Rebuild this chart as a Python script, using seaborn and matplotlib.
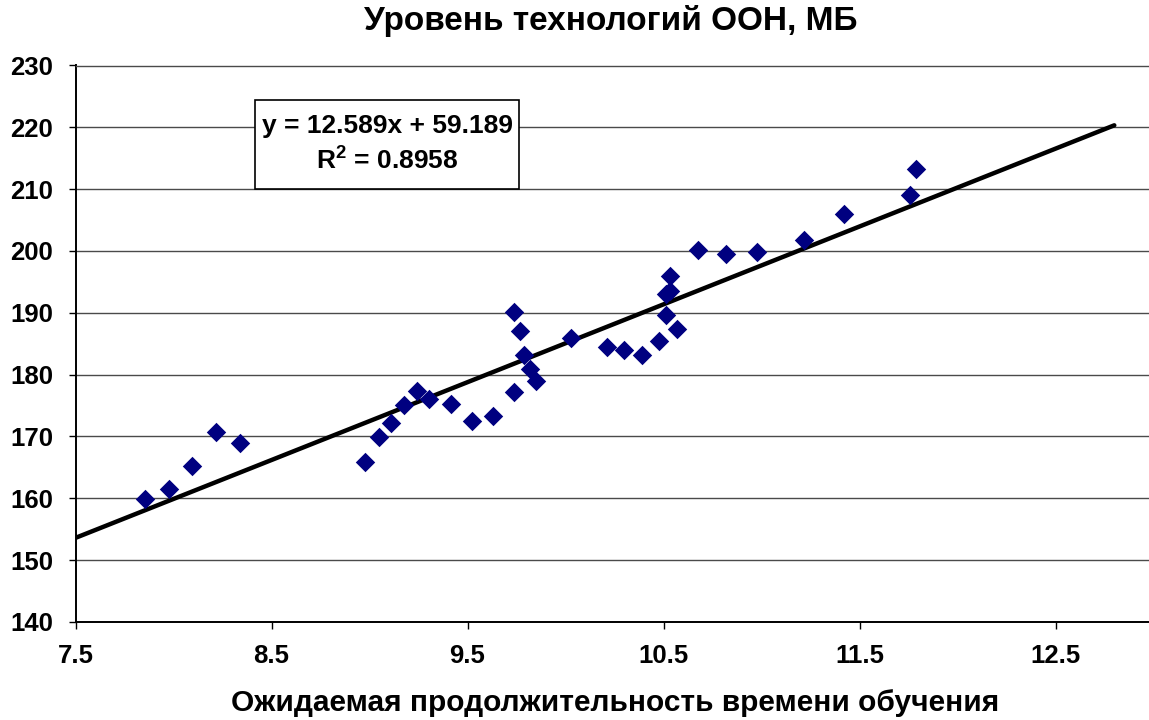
import matplotlib
matplotlib.use("Agg")
import matplotlib.pyplot as plt
import pandas as pd
import seaborn as sns
from matplotlib.patches import Rectangle

# Expected years of schooling vs. technology level (UN / World Bank)
schooling_years = [
    7.856, 7.976, 8.095, 8.216, 8.337,
    8.978, 9.046, 9.110, 9.175, 9.240, 9.302, 9.417, 9.524, 9.630,
    9.737, 9.736, 9.768, 9.790, 9.820, 9.847,
    10.030, 10.210, 10.298, 10.389, 10.478, 10.569,
    10.511, 10.515, 10.531, 10.535,
    10.676, 10.821, 10.975, 11.216, 11.422, 11.756, 11.788,
]
tech_level = [
    159.9, 161.5, 165.2, 170.8, 169.0,
    165.9, 169.9, 172.2, 175.1, 177.3, 176.0, 175.2, 172.5, 173.3,
    177.2, 190.1, 187.1, 183.2, 180.9, 179.0,
    185.9, 184.4, 184.0, 183.2, 185.5, 187.4,
    189.7, 193.0, 193.6, 195.9,
    200.1, 199.5, 199.9, 201.8, 206.0, 209.1, 213.2,
]

# Linear trend reported on the chart
slope = 12.589
intercept = 59.189
r_squared = 0.8958
trend_x = [7.5, 12.8]

x_ticks = [7.5, 8.5, 9.5, 10.5, 11.5, 12.5]
y_ticks = [140, 150, 160, 170, 180, 190, 200, 210, 220, 230]

title = "Уровень технологий ООН, МБ"
x_label = "Ожидаемая продолжительность времени обучения"

sns.set_style("white")
plt.rcParams["font.family"] = ["Liberation Sans", "DejaVu Sans"]
plt.rcParams["font.weight"] = "bold"
plt.rcParams["mathtext.fontset"] = "custom"
plt.rcParams["mathtext.bf"] = "Liberation Sans:bold"
plt.rcParams["text.color"] = "black"
plt.rcParams["xtick.color"] = "black"
plt.rcParams["ytick.color"] = "black"
plt.rcParams["axes.labelcolor"] = "black"

W, H = 1149, 720
fig = plt.figure(figsize=(W / 100, H / 100), dpi=100)

left_px, top_px, bottom_px = 75.5, 65.5, 622.0
px_per_unit = 196.0
ax = fig.add_axes([left_px / W, 1 - bottom_px / H,
                   (W - left_px) / W, (bottom_px - top_px) / H])

points = pd.DataFrame({"schooling": schooling_years, "tech": tech_level})
trend = pd.DataFrame({"schooling": trend_x,
                      "tech": [slope * x + intercept for x in trend_x]})

sns.lineplot(data=trend, x="schooling", y="tech", ax=ax, color="black",
             linewidth=3.2, zorder=3)
sns.scatterplot(data=points, x="schooling", y="tech", ax=ax, marker="D",
                s=98, color="#000080", edgecolor="#000080", linewidth=0,
                zorder=4)

ax.set_xlim(7.5, 7.5 + (W - left_px) / px_per_unit)
ax.set_ylim(140, 230)
ax.set_xticks(x_ticks)
ax.set_xticklabels([f"{v:.1f}" for v in x_ticks])
ax.set_yticks(y_ticks)
ax.set_yticklabels([str(v) for v in y_ticks])

ax.grid(axis="y", color="#4a4a4a", linewidth=1.0)
ax.grid(axis="x", visible=False)
ax.set_axisbelow(True)

ax.spines["right"].set_visible(False)
ax.spines["top"].set_color("#4a4a4a")
ax.spines["top"].set_linewidth(1.0)
for side in ("left", "bottom"):
    ax.spines[side].set_color("black")
    ax.spines[side].set_linewidth(1.4)

ax.tick_params(axis="both", which="major", direction="out", length=5,
               width=1, color="black", labelcolor="black", labelsize=18.5,
               pad=11, bottom=True, left=True)
for lbl in ax.get_xticklabels() + ax.get_yticklabels():
    lbl.set_fontweight("bold")

ax.set_xlabel("")
ax.set_ylabel("")
fig.text(615 / W, 1 - 703 / H, x_label, ha="center", va="center",
         fontsize=21.5, fontweight="bold", color="black")
fig.text(611 / W, 1 - 21 / H, title, ha="center", va="center",
         fontsize=24, fontweight="bold", color="black")

# Equation box
bx0, bx1, by0, by1 = 255, 519, 100, 189
fig.patches.append(Rectangle((bx0 / W, 1 - by1 / H), (bx1 - bx0) / W,
                             (by1 - by0) / H, transform=fig.transFigure,
                             facecolor="white", edgecolor="black",
                             linewidth=1.2, zorder=5))
fig.text(387 / W, 1 - 126 / H, f"y = {slope}x + {intercept}", ha="center",
         va="center", fontsize=19, fontweight="bold", color="black", zorder=6)
fig.text(387 / W, 1 - 160 / H, f"R$^\\mathbf{{2}}$ = {r_squared}", ha="center",
         va="center", fontsize=19, fontweight="bold", color="black", zorder=6)

fig.savefig("out.png", dpi=100)
